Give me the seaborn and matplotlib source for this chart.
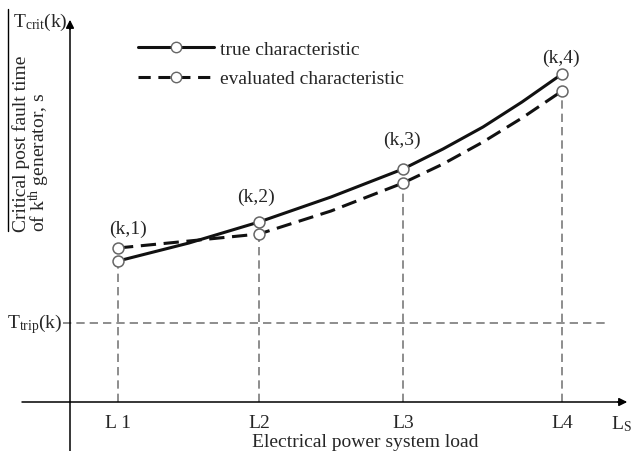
import numpy as np
import pandas as pd
import matplotlib
matplotlib.use("Agg")
import matplotlib.pyplot as plt
import seaborn as sns
from matplotlib.lines import Line2D

# load points (arbitrary units) and critical times
load_levels = ["L 1", "L2", "L3", "L4"]
load_at_levels = [0.48, 1.89, 3.33, 4.92]
true_at_levels = [1.41, 1.80, 2.33, 3.28]
eval_at_levels = [1.54, 1.68, 2.19, 3.11]
point_names = ["(k,1)", "(k,2)", "(k,3)", "(k,4)"]

# denser readings along the two drawn curves
curve_load = [0.48, 1.19, 1.89, 2.61, 3.33, 3.73, 4.13, 4.52, 4.92]
curve_true = [1.41, 1.59, 1.80, 2.05, 2.33, 2.53, 2.75, 3.00, 3.28]
curve_eval = [1.54, 1.61, 1.68, 1.91, 2.19, 2.38, 2.60, 2.84, 3.11]

t_trip = 0.79

sns.set_theme(style="white")
plt.rcParams["font.family"] = ["Liberation Serif", "DejaVu Serif"]
plt.rcParams["mathtext.fontset"] = "custom"
plt.rcParams["mathtext.rm"] = "Liberation Serif"
plt.rcParams["mathtext.it"] = "Liberation Serif:italic"

curves = pd.DataFrame({"load": curve_load, "true": curve_true, "eval": curve_eval})
points = pd.DataFrame({"load": load_at_levels, "true": true_at_levels,
                       "eval": eval_at_levels, "name": point_names,
                       "level": load_levels})

fig = plt.figure(figsize=(6.33, 4.52), dpi=100)
ax = fig.add_axes([0, 0, 1, 1])
ax.set_xlim(-0.70, 5.63)
ax.set_ylim(-0.49, 4.03)
ax.axis("off")

fs = 14
grey = "#7a7a7a"

# axes with arrows
ax.plot([-0.48, 5.55], [0, 0], color="black", lw=1.1, zorder=2)
ax.annotate("", xy=(5.60, 0), xytext=(5.45, 0),
            arrowprops=dict(arrowstyle="-|>", color="black", lw=1.1,
                            mutation_scale=12), zorder=2)
ax.plot([0, 0], [-0.49, 3.75], color="black", lw=1.1, zorder=2)
ax.annotate("", xy=(0, 3.85), xytext=(0, 3.70),
            arrowprops=dict(arrowstyle="-|>", color="black", lw=1.1,
                            mutation_scale=12), zorder=2)

# helper dashed lines
ax.plot([-0.07, 5.39], [t_trip, t_trip], color=grey, lw=1.2,
        dashes=(5, 3), zorder=1)
for x, a, b in zip(load_at_levels, true_at_levels, eval_at_levels):
    ax.plot([x, x], [0, min(a, b)], color=grey, lw=1.2, dashes=(5, 3), zorder=1)

# the two characteristics
sns.lineplot(data=curves, x="load", y="true", sort=False, ax=ax,
             color="#111111", lw=2.2, zorder=3)
sns.lineplot(data=curves, x="load", y="eval", sort=False, ax=ax,
             color="#111111", lw=2.2, zorder=3)
ax.lines[-1].set_dashes((5, 2.5))
for col in ["true", "eval"]:
    sns.scatterplot(data=points, x="load", y=col, ax=ax, s=62,
                    facecolor="white", edgecolor="#666666", linewidth=1.1,
                    zorder=4)
ax.set_xlabel("")
ax.set_ylabel("")

# point names above the upper circle
offsets = [(7, 8), (-2, 12), (-1, 15), (-1, 6)]
for (i, row), off in zip(points.iterrows(), offsets):
    ax.annotate(row["name"], xy=(row["load"], max(row["true"], row["eval"])),
                xytext=off, textcoords="offset points", ha="center",
                va="bottom", fontsize=fs)

# level labels on the x axis
for x, lab in zip(load_at_levels, load_levels):
    ax.text(x, -0.21, lab, ha="center", va="center", fontsize=fs)
ax.text(5.51, -0.21, "L$_{\\rm S}$", ha="center", va="center", fontsize=fs)
ax.text(2.95, -0.40, "Electrical power system load", ha="center",
        va="center", fontsize=fs)

ax.text(-0.02, 3.81, "T$_{\\rm crit}$(k)", ha="right", va="center", fontsize=fs)
ax.text(-0.08, t_trip, "T$_{\\rm trip}$(k)", ha="right", va="center", fontsize=fs)

# y axis caption written as a fraction
ax.plot([-0.62, -0.62], [1.71, 3.93], color="black", lw=1.0)
ax.text(-0.38, 1.71, "Critical post fault time\nof k$^{\\rm th}$ generator, s",
        rotation=90, ha="center", va="bottom", multialignment="left",
        linespacing=0.8, fontsize=14)

handles = [
    Line2D([], [], color="#111111", lw=2.2, marker="o", markersize=7.5,
           markerfacecolor="white", markeredgecolor="#666666"),
    Line2D([], [], color="#111111", lw=2.2, dashes=(4, 2.5), marker="o",
           markersize=7.5, markerfacecolor="white", markeredgecolor="#666666"),
]
ax.legend(handles, ["true characteristic", "evaluated characteristic"],
          loc="upper left", bbox_to_anchor=(0.218, 0.908),
          bbox_transform=fig.transFigure, frameon=False, fontsize=fs,
          handlelength=3.9, handletextpad=0.3, labelspacing=0.6,
          borderpad=0, borderaxespad=0)

fig.savefig("out.png", dpi=100)
